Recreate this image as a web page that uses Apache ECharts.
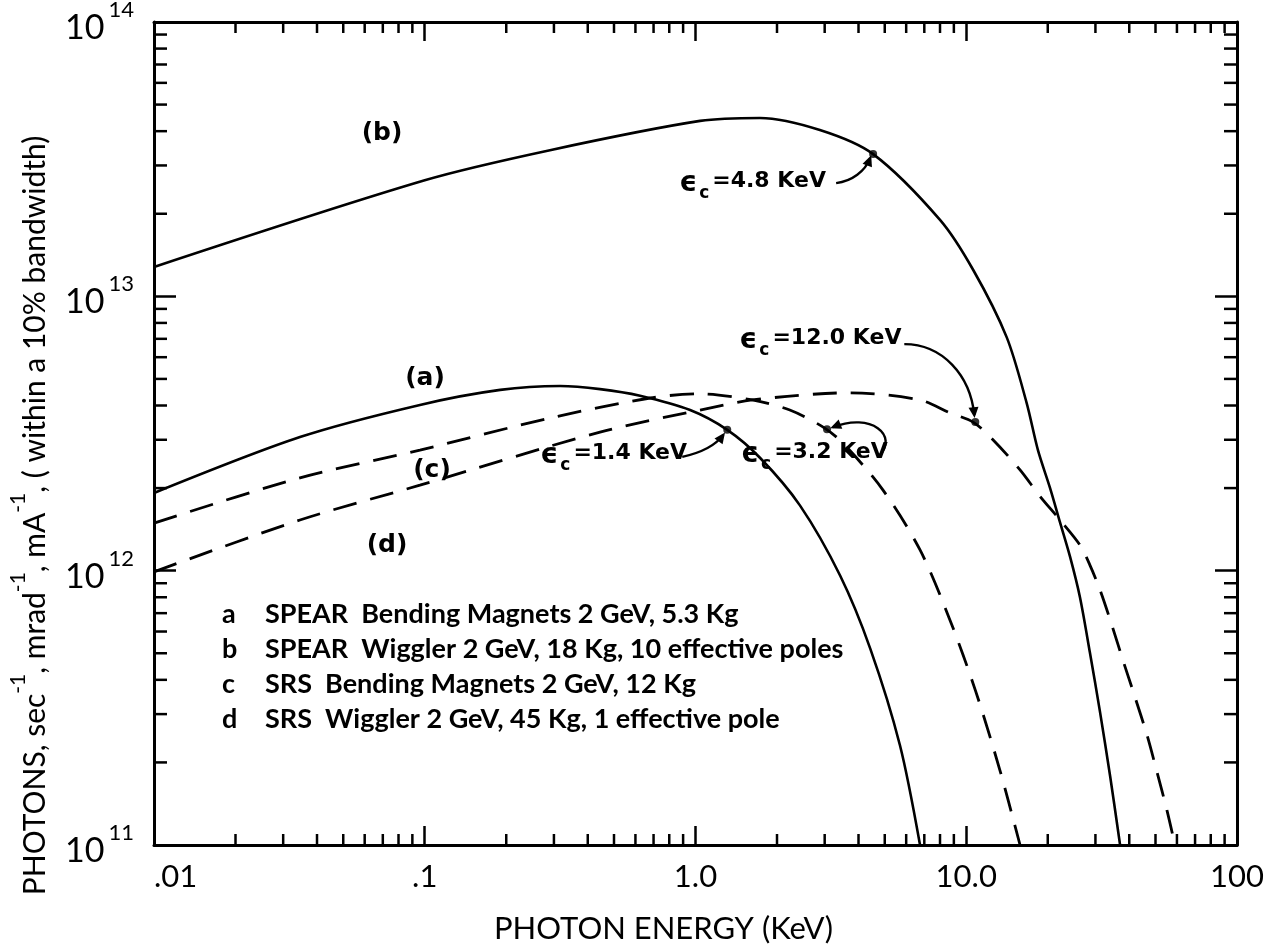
<!DOCTYPE html>
<html><head><meta charset="utf-8">
<script src="https://cdn.jsdelivr.net/npm/echarts@6/dist/echarts.min.js"></script>
<style>html,body{margin:0;padding:0;background:#fff}#c{width:1271px;height:952px}</style>
</head><body><div id="c"></div>
<script>
// ---------- data ----------
const xTickValues = [0.01, 0.1, 1, 10, 100];
const xTickLabels = ['.01', '.1', '1.0', '10.0', '100'];
const yTickValues = [1e11, 1e12, 1e13, 1e14];
const yTickExps = ['11', '12', '13', '14'];

// (a) SPEAR bending magnets
const energyA = [0.01, 0.0346, 0.096, 0.19, 0.316, 0.444, 0.624, 0.955, 1.31, 1.73, 2.43, 3.42, 4.42, 5.69, 6.75];
const fluxA   = [1.92e12, 3.07e12, 4.02e12, 4.56e12, 4.71e12, 4.59e12, 4.34e12, 3.85e12, 3.26e12, 2.58e12, 1.73e12, 9.6e11, 5.2e11, 2.31e11, 1.0e11];
// (b) SPEAR wiggler
const energyB = [0.01, 0.1, 0.29, 1.04, 1.73, 2.88, 4.53, 8.0, 10.6, 14.1, 16.7, 18.4, 20.4, 22.2, 24.2, 26.3, 28.6, 31.2, 34.0, 37.0];
const fluxB   = [1.28e13, 2.65e13, 3.41e13, 4.36e13, 4.47e13, 4.04e13, 3.30e13, 1.90e13, 1.25e13, 7.1e12, 4.1e12, 2.75e12, 2.00e12, 1.50e12, 1.12e12, 8.0e11, 5.05e11, 3.05e11, 1.78e11, 1.0e11];
// (c) SRS bending magnets
const energyC = [0.01, 0.0346, 0.096, 0.29, 0.68, 1.04, 1.62, 2.23, 3.0, 3.56, 4.92, 6.75, 8.71, 10.8, 13.3, 15.8];
const fluxC   = [1.49e12, 2.18e12, 2.75e12, 3.60e12, 4.26e12, 4.41e12, 4.19e12, 3.85e12, 3.31e12, 2.87e12, 1.97e12, 1.19e12, 6.6e11, 3.67e11, 1.88e11, 1.0e11];
// (d) SRS wiggler
const energyD = [0.01, 0.0346, 0.096, 0.444, 1.04, 1.62, 3.72, 6.75, 8.71, 10.6, 12.6, 15.8, 18.7, 22.2, 26.3, 28.6, 31.2, 34.5, 37.9, 42.0, 46.5, 50.6, 55.1, 59.0];
const fluxD   = [9.9e11, 1.53e12, 2.05e12, 3.20e12, 3.85e12, 4.19e12, 4.45e12, 4.19e12, 3.76e12, 3.48e12, 2.99e12, 2.33e12, 1.87e12, 1.53e12, 1.24e12, 1.05e12, 8.5e11, 6.33e11, 4.72e11, 3.46e11, 2.52e11, 1.85e11, 1.34e11, 1.0e11];

// critical-energy markers
const ecLabels = ['4.8', '12.0', '1.4', '3.2'];
const ecX = [4.53, 10.8, 1.31, 3.06];
const ecY = [3.30e13, 3.48e12, 3.26e12, 3.28e12];

// curve tags and description block
const curveTags = ['(b)', '(a)', '(c)', '(d)'];
const legendKeys = ['a', 'b', 'c', 'd'];
const legendTexts = [
  'SPEAR  Bending Magnets 2 GeV, 5.3 Kg',
  'SPEAR  Wiggler 2 GeV, 18 Kg, 10 effective poles',
  'SRS  Bending Magnets 2 GeV, 12 Kg',
  'SRS  Wiggler 2 GeV, 45 Kg, 1 effective pole'
];
const xTitle = 'PHOTON ENERGY (KeV)';

// ---------- layout (pixels) ----------
const FONT = 'Lato, "DejaVu Sans", sans-serif';
const BOLDFONT = '"DejaVu Sans", sans-serif';
const tagPos = [[382, 133], [425, 378], [432, 470], [387, 545]];
const legendKeyX = 222, legendTextX = 265, legendY0 = 614, legendDy = 35;
// annotation layout relative to marker pixel: label [dx, dy], arrow bezier [sx,sy,c1x,c1y,c2x,c2y,ex,ey]
const annLayout = [
  {lab: [-194, 32], arr: [-37, 29, -21, 27, -8, 17, -3, 4]},
  {lab: [-236, -79], arr: [-71, -78, -33, -78, -5, -47, -1, -7]},
  {lab: [-187, 28], arr: [-45, 27, -27, 23, -12, 16, -4, 5]},
  {lab: [-86, 28], arr: [52, 27, 72, 6, 44, -17, 6, -2]}
];

const zip = (xs, ys) => xs.map((x, i) => [x, ys[i]]);
const tickIdx = (arr, v) => arr.findIndex(t => Math.abs(Math.log10(t) - Math.log10(v)) < 1e-6);

// minor ticks (2..9 within each decade)
const minorData = [];
for (let k = -2; k < 2; k++) for (let m = 2; m <= 9; m++) minorData.push([m * Math.pow(10, k), 1e11, 0]);
for (let k = 11; k < 14; k++) for (let m = 2; m <= 9; m++) minorData.push([0.01, m * Math.pow(10, k), 1]);

const chart = echarts.init(document.getElementById('c'), null, {renderer: 'canvas'});

const axisCommonX = {
  type: 'log', logBase: 10, min: 0.01, max: 100,
  axisLine: {show: true, onZero: false, lineStyle: {color: '#000', width: 3}},
  axisTick: {show: true, inside: true, length: 19, lineStyle: {color: '#000', width: 2.5}},
  splitLine: {show: false}
};
const axisCommonY = {
  type: 'log', logBase: 10, min: 1e11, max: 1e14,
  axisLine: {show: true, onZero: false, lineStyle: {color: '#000', width: 3}},
  axisTick: {show: true, inside: true, length: 22, lineStyle: {color: '#000', width: 2.5}},
  splitLine: {show: false}
};

const lineBase = {type: 'line', showSymbol: false, smooth: 0.3, silent: true, z: 3};

chart.setOption({
  animation: false,
  backgroundColor: '#fff',
  grid: {left: 154, right: 34, top: 22, bottom: 107, containLabel: false, outerBoundsMode: 'none'},
  xAxis: [
    Object.assign({}, axisCommonX, {
      position: 'bottom',
      name: xTitle, nameLocation: 'middle', nameGap: 68,
      nameTextStyle: {fontFamily: FONT, fontSize: 31, color: '#000', padding: [0, 64, 0, 0]},
      axisLabel: {
        show: true, margin: 16, color: '#000', fontFamily: FONT, fontSize: 31,
        alignMinLabel: 'left',
        formatter: v => { const i = tickIdx(xTickValues, v); return i >= 0 ? xTickLabels[i] : ''; }
      }
    }),
    Object.assign({}, axisCommonX, {position: 'top', axisLabel: {show: false}})
  ],
  yAxis: [
    Object.assign({}, axisCommonY, {
      position: 'left',
      name: '{t|PHOTONS, sec}{s|-1}{t|, mrad}{s|-1}{t|, mA}{s|-1}{t|, ( within a 10% bandwidth)}',
      nameLocation: 'middle', nameGap: 104, nameRotate: 90,
      nameTextStyle: {
        color: '#000', padding: [0, 164, 0, 0],
        rich: {
          t: {fontFamily: FONT, fontSize: 30, color: '#000', lineHeight: 42, verticalAlign: 'bottom'},
          s: {fontFamily: FONT, fontSize: 21, color: '#000', lineHeight: 21, verticalAlign: 'top'}
        }
      },
      axisLabel: {
        show: true, margin: 20, color: '#000',
        formatter: v => { const i = tickIdx(yTickValues, v); return i >= 0 ? '{b|10}{s|' + yTickExps[i] + '}' : ''; },
        rich: {
          b: {fontFamily: FONT, fontSize: 34, color: '#000', lineHeight: 46, verticalAlign: 'bottom'},
          s: {fontFamily: FONT, fontSize: 22, color: '#000', lineHeight: 22, verticalAlign: 'top', padding: [0, 0, 0, 4]}
        }
      }
    }),
    Object.assign({}, axisCommonY, {position: 'right', axisLabel: {show: false}})
  ],
  series: [
    Object.assign({}, lineBase, {name: 'a', data: zip(energyA, fluxA), lineStyle: {color: '#000', width: 2.6, type: 'solid'}}),
    Object.assign({}, lineBase, {name: 'b', data: zip(energyB, fluxB), lineStyle: {color: '#000', width: 2.6, type: 'solid'}}),
    Object.assign({}, lineBase, {name: 'c', data: zip(energyC, fluxC), lineStyle: {color: '#000', width: 2.8, type: [24, 14]}}),
    Object.assign({}, lineBase, {name: 'd', data: zip(energyD, fluxD), lineStyle: {color: '#000', width: 2.8, type: [24, 14]}}),
    {
      type: 'custom', name: 'minorTicks', silent: true, z: 4,
      data: minorData,
      renderItem: (params, api) => {
        const v0 = api.value(0), v1 = api.value(1), kind = api.value(2);
        const st = {stroke: '#000', lineWidth: 2.5};
        if (kind === 0) {
          const b = api.coord([v0, 1e11]), t = api.coord([v0, 1e14]);
          return {type: 'group', children: [
            {type: 'line', shape: {x1: b[0], y1: b[1], x2: b[0], y2: b[1] - 11}, style: st},
            {type: 'line', shape: {x1: t[0], y1: t[1], x2: t[0], y2: t[1] + 11}, style: st}
          ]};
        }
        const l = api.coord([0.01, v1]), r = api.coord([100, v1]);
        return {type: 'group', children: [
          {type: 'line', shape: {x1: l[0], y1: l[1], x2: l[0] + 13, y2: l[1]}, style: st},
          {type: 'line', shape: {x1: r[0], y1: r[1], x2: r[0] - 13, y2: r[1]}, style: st}
        ]};
      }
    },
    {
      type: 'scatter', name: 'ec', silent: true, z: 5,
      data: zip(ecX, ecY), symbol: 'circle', symbolSize: 8, itemStyle: {color: '#000'}
    },
    {
      type: 'custom', name: 'ecAnnotations', silent: true, z: 6,
      data: ecX.map((x, i) => [x, ecY[i], i]),
      renderItem: (params, api) => {
        const p = api.coord([api.value(0), api.value(1)]);
        const i = api.value(2);
        const L = annLayout[i];
        const a = L.arr;
        const sx = p[0] + a[0], sy = p[1] + a[1];
        const ex = p[0] + a[6], ey = p[1] + a[7];
        const c2x = p[0] + a[4], c2y = p[1] + a[5];
        let dx = ex - c2x, dy = ey - c2y; const dl = Math.hypot(dx, dy) || 1; dx /= dl; dy /= dl;
        const hl = 11, hw = 5;
        const tipX = ex + dx * 3, tipY = ey + dy * 3;
        const bx = tipX - dx * hl, by = tipY - dy * hl;
        return {type: 'group', children: [
          {type: 'bezierCurve', shape: {x1: sx, y1: sy, cpx1: p[0] + a[2], cpy1: p[1] + a[3], cpx2: c2x, cpy2: c2y, x2: ex, y2: ey},
           style: {stroke: '#000', lineWidth: 2.4, fill: null}},
          {type: 'polygon', shape: {points: [[tipX, tipY], [bx - dy * hw, by + dx * hw], [bx + dy * hw, by - dx * hw]]},
           style: {fill: '#000'}},
          {type: 'text', x: p[0] + L.lab[0], y: p[1] + L.lab[1],
           style: {
             text: '{e|\u03F5}{c|c}{t|=' + ecLabels[i] + ' KeV}',
             align: 'left', verticalAlign: 'middle',
             rich: {
               e: {fontFamily: BOLDFONT, fontSize: 28, fontWeight: 'bold', fill: '#000', lineHeight: 32, verticalAlign: 'top'},
               c: {fontFamily: BOLDFONT, fontSize: 17, fontWeight: 'bold', fill: '#000', lineHeight: 16, verticalAlign: 'bottom', padding: [0, 3, 0, 2]},
               t: {fontFamily: BOLDFONT, fontSize: 22, fontWeight: 'bold', fill: '#000', lineHeight: 32, verticalAlign: 'top'}
             }
           }}
        ]};
      }
    }
  ],
  graphic: [].concat(
    curveTags.map((t, i) => ({
      type: 'text', x: tagPos[i][0], y: tagPos[i][1], z: 10,
      style: {text: t, fontFamily: BOLDFONT, fontSize: 25, fontWeight: 'bold', fill: '#000', align: 'center', verticalAlign: 'middle'}
    })),
    legendKeys.map((k, i) => ({
      type: 'text', x: legendKeyX, y: legendY0 + i * legendDy, z: 10,
      style: {text: k, fontFamily: FONT, fontSize: 27, fontWeight: 'bold', fill: '#000', align: 'left', verticalAlign: 'middle'}
    })),
    legendTexts.map((t, i) => ({
      type: 'text', x: legendTextX, y: legendY0 + i * legendDy, z: 10,
      style: {text: t, fontFamily: FONT, fontSize: 27, fontWeight: 'bold', fill: '#000', align: 'left', verticalAlign: 'middle'}
    }))
  )
});
</script>
</body></html>
